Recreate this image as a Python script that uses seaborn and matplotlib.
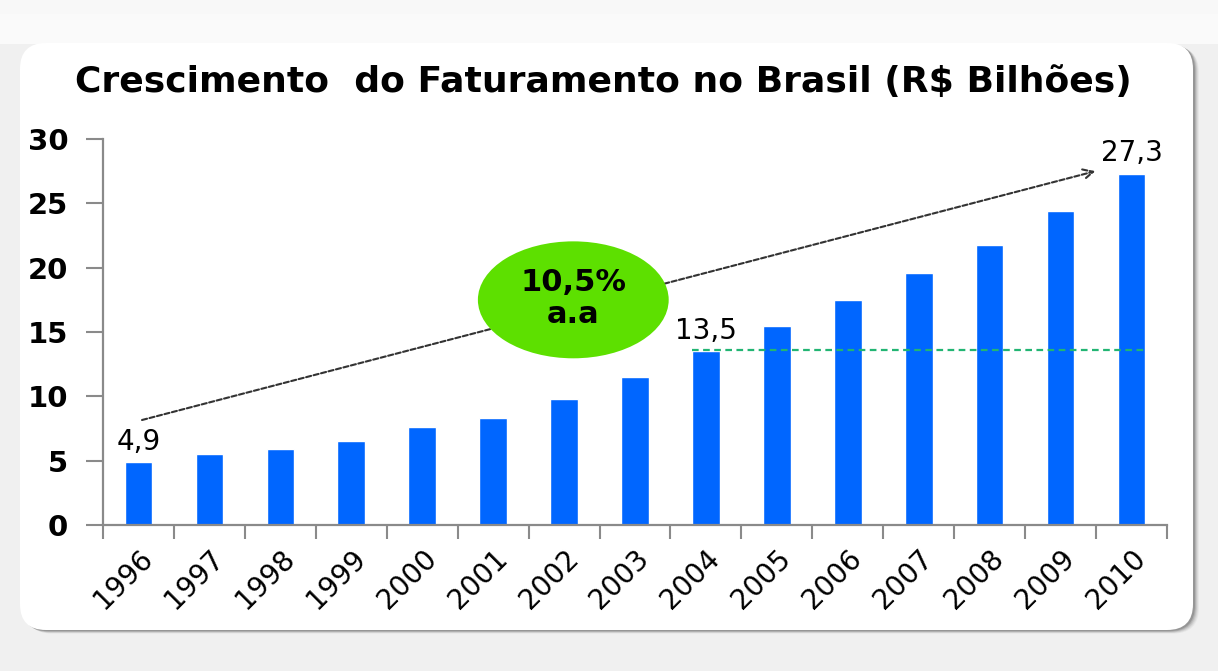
import matplotlib
matplotlib.use("Agg")
import matplotlib.pyplot as plt
import seaborn as sns
import numpy as np
import pandas as pd
from matplotlib.patches import FancyBboxPatch, Ellipse

# ---- data ----
years = ["1996", "1997", "1998", "1999", "2000", "2001", "2002", "2003",
         "2004", "2005", "2006", "2007", "2008", "2009", "2010"]
values = [4.9, 5.5, 5.9, 6.5, 7.6, 8.3, 9.8, 11.5, 13.5, 15.5, 17.5, 19.6, 21.8, 24.4, 27.3]
labels = {"1996": "4,9", "2004": "13,5", "2010": "27,3"}
growth_text = "10,5%\na.a"
title = "Crescimento  do Faturamento no Brasil (R$ Bilhões)"
y_ticks = [0, 5, 10, 15, 20, 25, 30]

sns.set_theme(style="white")
plt.rcParams['font.family'] = ['DejaVu Sans']

W, H = 1218, 671
fig = plt.figure(figsize=(W / 100, H / 100), dpi=100)
fig.patch.set_facecolor("#f0f0f0")

# background axes in pixel coords for the card
bg = fig.add_axes([0, 0, 1, 1], zorder=-10)
bg.set_xlim(0, W)
bg.set_ylim(H, 0)
bg.axis("off")
bg.add_patch(plt.Rectangle((0, 0), W, 14, color="#f8f8f8", lw=0))
bg.add_patch(plt.Rectangle((0, 14), W, 30, color="#fafafa", lw=0))
for i, a in enumerate([0.04, 0.06, 0.08, 0.11, 0.15]):
    off = 6 - i
    bg.add_patch(FancyBboxPatch((20 + off, 43 + off * 0.6), 1173, 587,
                                boxstyle="round,pad=0,rounding_size=26",
                                fc="#000000", ec="none", alpha=a))
bg.add_patch(FancyBboxPatch((20, 43), 1173, 587,
                            boxstyle="round,pad=0,rounding_size=26",
                            fc="white", ec="none"))

# main axes
left, right = 103 / W, 1167 / W
bottom, top = 1 - 525 / H, 1 - 139 / H
ax = fig.add_axes([left, bottom, right - left, top - bottom])
ax.set_facecolor("none")

df = pd.DataFrame({"ano": years, "valor": values})
sns.barplot(data=df, x="ano", y="valor", color="#0066ff", saturation=1,
            width=0.39, ax=ax, zorder=2)

ax.set_xlim(-0.5, len(years) - 0.5)
ax.set_ylim(0, 30)
ax.set_yticks(y_ticks)
ax.set_xlabel("")
ax.set_ylabel("")

for s in ["top", "right"]:
    ax.spines[s].set_visible(False)
for s in ["left", "bottom"]:
    ax.spines[s].set_color("#8a8a8a")
    ax.spines[s].set_linewidth(1.6)

ax.tick_params(axis="y", which="major", direction="out", length=12, width=1.5,
               color="#8a8a8a", left=True, pad=13, labelsize=21)
for t in ax.get_yticklabels():
    t.set_fontweight("bold")
    t.set_color("black")

ax.set_xticks(np.arange(len(years)))
ax.set_xticklabels(years, rotation=45, ha="right", rotation_mode="anchor",
                   fontsize=20, color="black")
ax.tick_params(axis="x", which="major", length=0, pad=14)
ax.set_xticks(np.arange(len(years) + 1) - 0.5, minor=True)
ax.tick_params(axis="x", which="minor", direction="out", length=10, width=1.5,
               color="#8a8a8a", bottom=True)

# data labels
idx = {y: i for i, y in enumerate(years)}
for yr in ["1996", "2004", "2010"]:
    ax.text(idx[yr], values[idx[yr]] + 0.5, labels[yr], ha="center", va="bottom",
            fontsize=20, color="black", zorder=5, clip_on=False)

# green dashed reference line at 2004 level
i04, i10 = idx["2004"], idx["2010"]
ax.plot([i04 - 0.19, i10 + 0.19], [values[i04] + 0.1, values[i04] + 0.1],
        color="#22b573", lw=1.6, ls=(0, (3, 2)), zorder=3)

# growth arrow
ax.annotate("", xy=(13.49, 27.5), xytext=(0.05, 8.16),
            arrowprops=dict(arrowstyle="->,head_length=0.6,head_width=0.3",
                            color="#333333", lw=1.5, ls=(0, (2.5, 1.2)),
                            shrinkA=0, shrinkB=0),
            zorder=4, annotation_clip=False)

# green ellipse
ax.add_patch(Ellipse((6.13, 17.5), 2.69, 9.09, facecolor="#5de000",
                     edgecolor="none", zorder=6))
ax.text(6.13, 17.6, growth_text, ha="center", va="center", fontsize=22,
        fontweight="bold", color="black", zorder=7, linespacing=1.15)

# title
fig.text(603 / W, 1 - 82 / H, title, ha="center", va="center",
         fontsize=26, fontweight="bold", color="black")

fig.savefig("out.png", dpi=100, facecolor=fig.get_facecolor())
